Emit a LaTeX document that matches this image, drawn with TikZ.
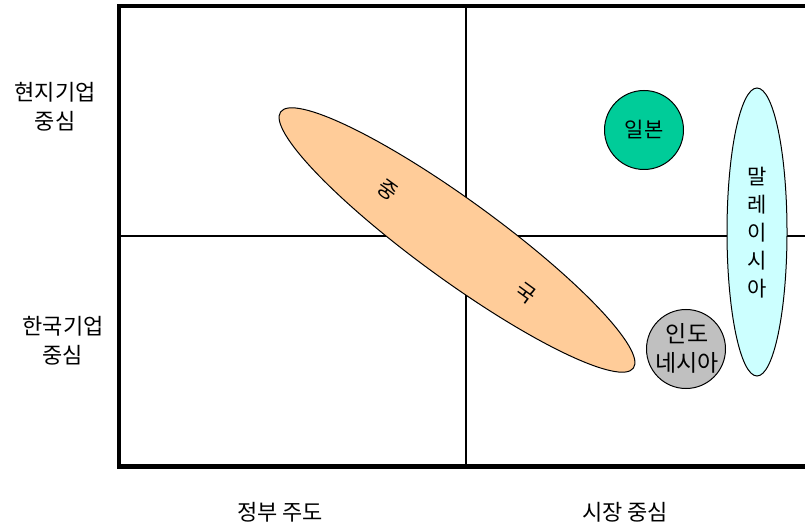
\documentclass[tikz,border=0pt]{standalone}
\usepackage{fontspec}
\setmainfont{Noto Sans CJK KR}
\usetikzlibrary{shapes.geometric}
\definecolor{orangefill}{HTML}{FFCC99}
\definecolor{greenfill}{HTML}{00CC99}
\definecolor{cyanfill}{HTML}{CCFFFF}
\definecolor{grayfill}{HTML}{C0C0C0}
\tikzset{
  frame/.style={line width=4.3pt},
  midline/.style={line width=1.8pt},
  blob/.style={ellipse, draw=black, line width=1pt, inner sep=0pt},
  lbl/.style={font=\fontsize{21}{29}\selectfont, align=center, inner sep=0pt},
  axislbl/.style={lbl, font=\fontsize{22}{29}\selectfont},
}
\begin{document}
\begin{tikzpicture}[x=1pt,y=-1pt]
\useasboundingbox (0,0) rectangle (805,526);
\begin{scope}
\clip (0,0) rectangle (805,526);
% quadrant lines
\coordinate (vt) at (466,6);
\coordinate (vb) at (466,466);
\coordinate (hl) at (119,236);
\coordinate (hr) at (810,236);
\draw[midline] (vt) -- (vb);
\draw[midline] (hl) -- (hr);
% frame
\coordinate (tr) at (812,6);
\coordinate (tl) at (119,6);
\coordinate (bl) at (119,466.5);
\coordinate (br) at (812,466.5);
\draw[frame] (tr) -- (tl) -- (bl) -- (br);
% blobs
\node[blob, fill=orangefill, minimum width=436pt, minimum height=80pt, rotate=-36] (china) at (457,240) {};
\node[lbl, rotate=-36] (chinaA) at (388,190) {중};
\node[lbl, rotate=-36] (chinaB) at (526,293) {국};
\node[blob, fill=greenfill, minimum width=79pt, minimum height=79pt] (japan) at (644,130) {};
\node[lbl] (japanT) at (644,130) {일본};
\node[blob, fill=cyanfill, minimum width=60pt, minimum height=288pt] (malay) at (757,232) {};
\node[lbl, font=\fontsize{21}{28}\selectfont] (malayT) at (757,233) {말\\레\\이\\시\\아};
\node[blob, fill=grayfill, minimum width=79pt, minimum height=79pt] (indo) at (686,349) {};
\node[lbl, font=\fontsize{23}{29}\selectfont] (indoT) at (687,348) {인도\\네시아};
\end{scope}
% axis labels
\node[axislbl] (local) at (55,107) {현지기업\\중심};
\node[axislbl] (korea) at (63,341) {한국기업\\중심};
\node[axislbl] (gov) at (280,512) {정부 주도};
\node[axislbl] (market) at (625,512) {시장 중심};
\end{tikzpicture}
\end{document}
